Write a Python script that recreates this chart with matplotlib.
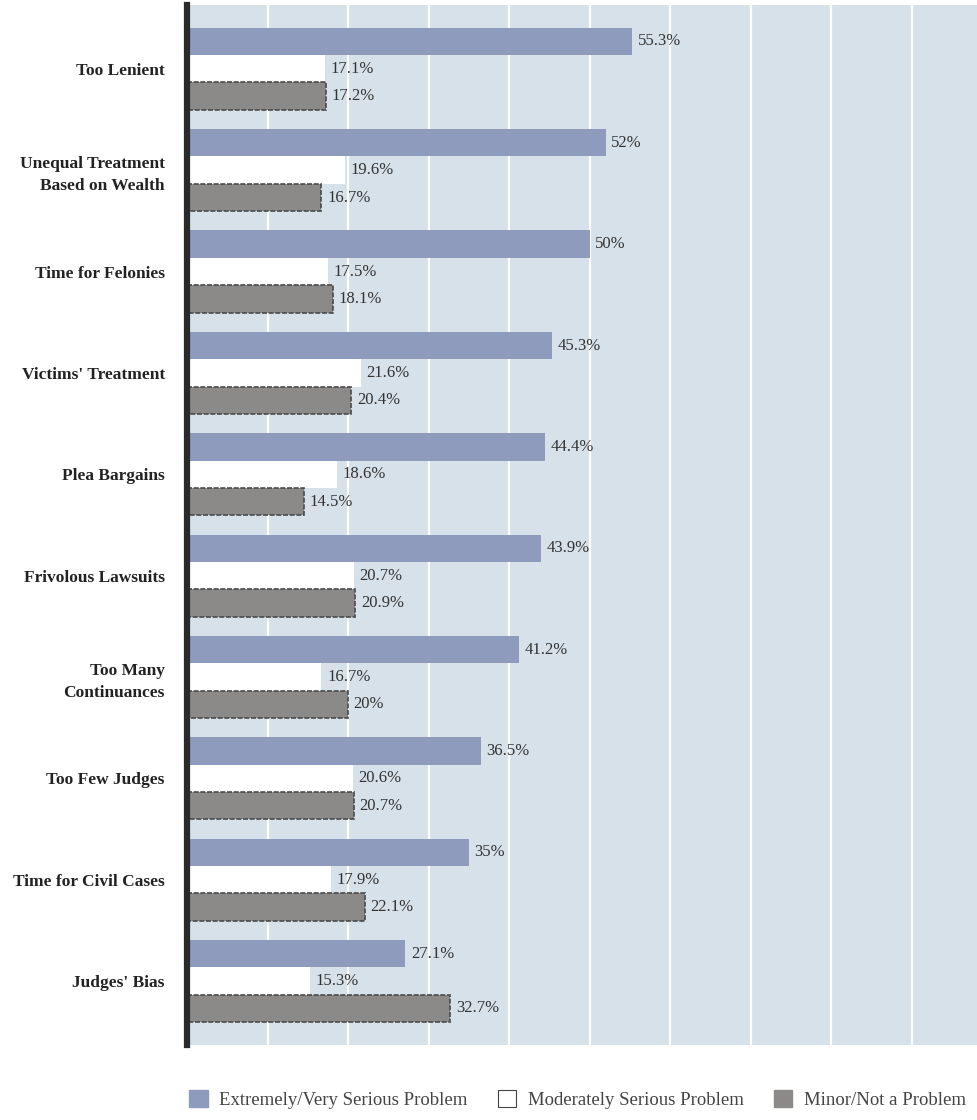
import numpy as np
import matplotlib.pyplot as plt
from matplotlib.patches import Patch

categories = ["Too Lenient", "Unequal Treatment\nBased on Wealth", "Time for Felonies",
              "Victims' Treatment", "Plea Bargains", "Frivolous Lawsuits",
              "Too Many\nContinuances", "Too Few Judges", "Time for Civil Cases",
              "Judges' Bias"]
serious = [55.3, 52, 50, 45.3, 44.4, 43.9, 41.2, 36.5, 35, 27.1]
moderate = [17.1, 19.6, 17.5, 21.6, 18.6, 20.7, 16.7, 20.6, 17.9, 15.3]
minor = [17.2, 16.7, 18.1, 20.4, 14.5, 20.9, 20, 20.7, 22.1, 32.7]
series_names = ["Extremely/Very Serious Problem", "Moderately Serious Problem",
                "Minor/Not a Problem"]

serif = ["Liberation Serif", "DejaVu Serif"]
plt.rcParams['font.family'] = serif

fig = plt.figure(figsize=(9.77, 11.2), dpi=100)
ax = fig.add_axes([0.1914, 0.067, 0.8086, 0.9286])
ax.set_facecolor("#d6e1e9")

y = np.arange(len(categories))
h = 0.27
styles = [
    dict(color="#8e9bbd", edgecolor="none"),
    dict(color="white", edgecolor="none"),
    dict(color="#8b8a88", edgecolor="#4a4a4a", linewidth=1.2, linestyle=(0, (3, 1))),
]
for k, vals in enumerate([serious, moderate, minor]):
    yy = y + (k - 1) * h
    ax.barh(yy, vals, height=h, zorder=3, **styles[k])
    for v, yv in zip(vals, yy):
        ax.text(v + 0.7, yv, f"{v:g}%", va="center", ha="left", fontsize=12,
                color="#333333", zorder=4)

ax.set_xlim(0, 98.1)
ax.set_ylim(len(categories) - 0.37, -0.63)
ax.set_xticks(np.arange(10, 100, 10))
ax.xaxis.grid(True, color="white", linewidth=1.6, zorder=1)
ax.tick_params(axis="x", length=0, labelbottom=False)
ax.tick_params(axis="y", length=0, pad=16)
ax.set_yticks(y)
ax.set_yticklabels(categories, fontsize=12.5, fontweight="bold", color="#222222",
                   linespacing=1.5)
for lab in ax.get_yticklabels():
    lab.set_horizontalalignment("right")

for s in ["top", "right", "bottom"]:
    ax.spines[s].set_visible(False)
ax.spines["left"].set_linewidth(4.5)
ax.spines["left"].set_color("#2a2a2a")
ax.spines["left"].set_zorder(5)

handles = [Patch(facecolor="#8e9bbd", edgecolor="#8e9bbd"),
           Patch(facecolor="white", edgecolor="#444444", linewidth=0.8),
           Patch(facecolor="#8b8a88", edgecolor="#8b8a88")]
fig.legend(handles, series_names, loc="center", bbox_to_anchor=(0.591, 0.0185),
           ncol=3, frameon=False, fontsize=13.5, handlelength=1.0, handleheight=1.0,
           columnspacing=1.6, handletextpad=0.6, labelcolor="#444444")

fig.savefig("out.png", dpi=100)
